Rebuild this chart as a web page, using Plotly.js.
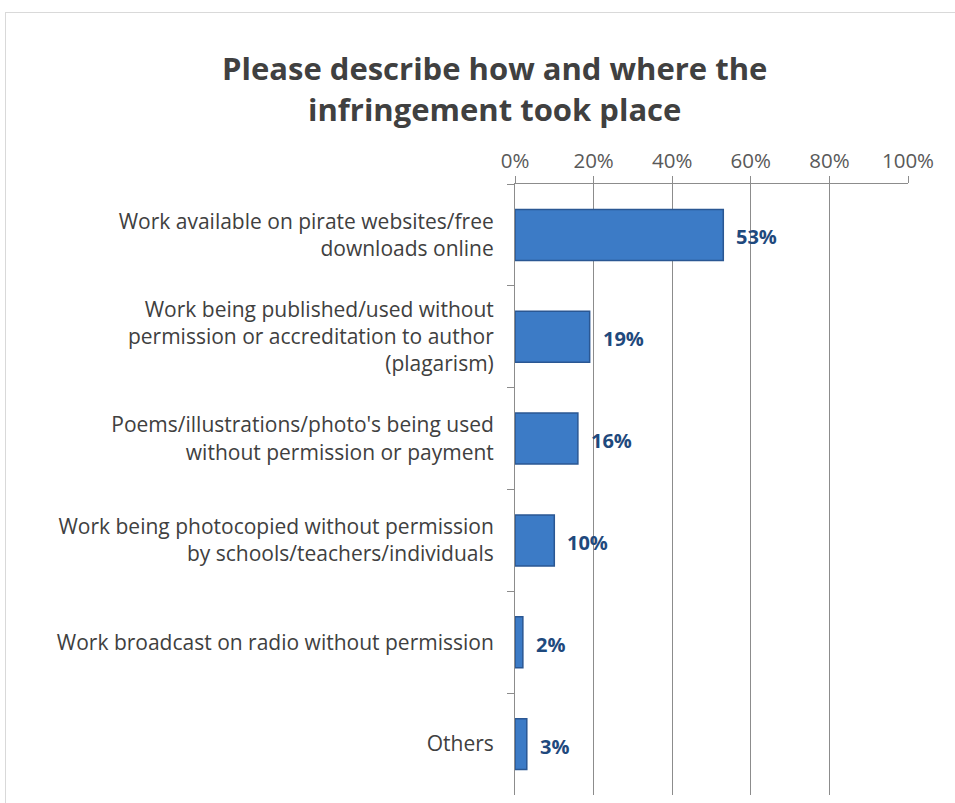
<!DOCTYPE html>
<html>
<head>
<meta charset="utf-8">
<script src="https://cdn.plot.ly/plotly-3.0.1.min.js"></script>
<style>
  html, body { margin: 0; padding: 0; background: #fff; }
  #wrap { position: relative; width: 955px; height: 803px; overflow: hidden; }
  #chart { position: absolute; left: 0; top: 0; width: 955px; height: 803px; }
  #frame { position: absolute; left: 5px; top: 12px; width: 960px; height: 800px; border: 1px solid #d9d9d9; pointer-events: none; }
</style>
</head>
<body>
<div id="wrap">
  <div id="chart"></div>
  <div id="frame"></div>
</div>
<script>
const categories = [
  "Work available on pirate websites/free<br>downloads online",
  "Work being published/used without<br>permission or accreditation to author<br>(plagarism)",
  "Poems/illustrations/photo's being used<br>without permission or payment",
  "Work being photocopied without permission<br>by schools/teachers/individuals",
  "Work broadcast on radio without permission",
  "Others"
];
const values = [0.53, 0.19, 0.16, 0.10, 0.02, 0.03];
const valueLabels = ["53%", "19%", "16%", "10%", "2%", "3%"];
const xTickVals = [0, 0.2, 0.4, 0.6, 0.8, 1.0];
const xTickText = ["0%", "20%", "40%", "60%", "80%", "100%"];

const FONT = "'Open Sans', Lato, sans-serif";

const trace = {
  type: "bar",
  orientation: "h",
  x: values,
  y: categories,
  marker: { color: "#3c7bc6", line: { color: "#2a5793", width: 1.5 } },
  hoverinfo: "skip"
};

const annotations = values.map((v, i) => ({
  x: v, y: categories[i], xref: "x", yref: "y",
  text: "<b>" + valueLabels[i] + "</b>",
  showarrow: false, xanchor: "left", xshift: 11, yshift: -2,
  font: { family: FONT, size: 20, color: "#1f497d" }
}));

const layout = {
  width: 955, height: 803,
  margin: { l: 515, r: 47, t: 184, b: 8, pad: 0 },
  paper_bgcolor: "rgba(0,0,0,0)",
  plot_bgcolor: "rgba(0,0,0,0)",
  showlegend: false,
  bargap: 0.5,
  title: {
    text: "<b>Please describe how and where the<br>infringement took place</b>",
    font: { family: FONT, size: 31, color: "#404040" },
    x: 0.518, xanchor: "center", xref: "container",
    y: 0.9, yanchor: "top", yref: "container"
  },
  xaxis: {
    side: "top", range: [0, 1],
    tickvals: xTickVals, ticktext: xTickText,
    showgrid: true, gridcolor: "#8c8c8c", gridwidth: 1,
    showline: true, linecolor: "#8c8c8c", linewidth: 1,
    ticks: "outside", ticklen: 7, tickcolor: "#8c8c8c",
    tickfont: { family: FONT, size: 20.5, color: "#595959" },
    zeroline: false, fixedrange: true
  },
  yaxis: {
    autorange: "reversed",
    type: "category",
    tickson: "boundaries",
    ticks: "outside", ticklen: 7, tickcolor: "#8c8c8c",
    showline: true, linecolor: "#8c8c8c", linewidth: 1,
    showgrid: false,
    ticklabelstandoff: 16,
    tickfont: { family: FONT, size: 21, color: "#404040" },
    fixedrange: true
  },
  annotations: annotations
};

Plotly.newPlot("chart", [trace], layout, { displayModeBar: false, staticPlot: true });
</script>
</body>
</html>
